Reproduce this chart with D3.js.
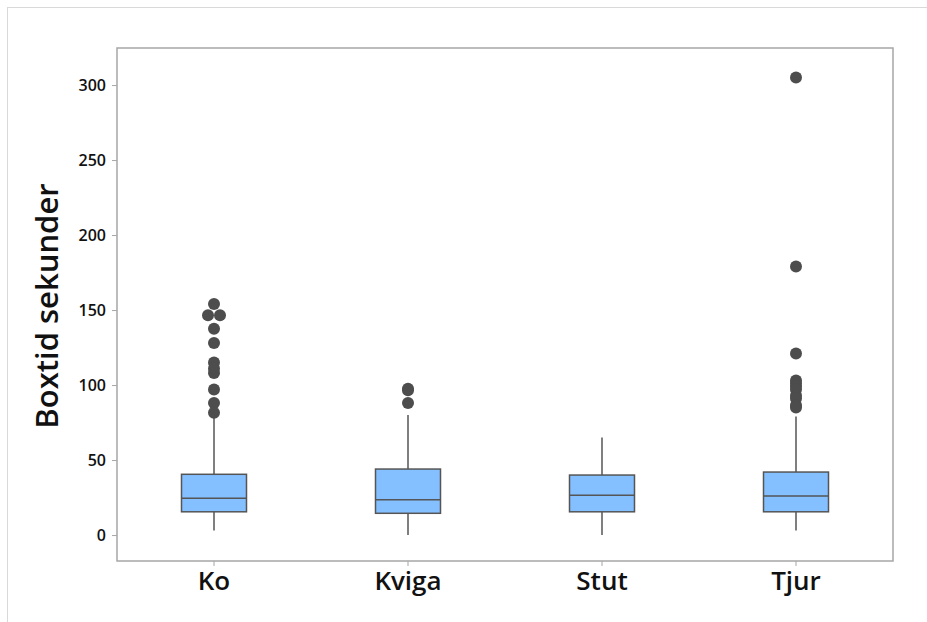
<!DOCTYPE html>
<html>
<head>
<meta charset="utf-8">
<script src="https://cdn.jsdelivr.net/npm/d3@7"></script>
<style>
  body { margin: 0; background: #fff; }
  text { font-family: "Open Sans", "Noto Sans", sans-serif; }
</style>
</head>
<body>
<script>
//Width and height
var w = 927;
var h = 622;

//Data
var categories = ["Ko", "Kviga", "Stut", "Tjur"];
var q1 =      [15.5, 14.5, 15.5, 15.5];
var medians = [24.5, 23.5, 26.5, 26];
var q3 =      [40.5, 44, 40, 42];
var whiskerLow =  [3, 0, 0, 3];
var whiskerHigh = [78, 80, 65, 79];
var outliers = [
    [154, 146.5, 146.5, 137.5, 128, 115, 111, 108, 97, 88, 81.5],
    [97.5, 96.5, 88],
    [],
    [305, 179, 121, 103, 101, 99, 97, 93, 91, 86.5, 85]
];
var yTicks = [0, 50, 100, 150, 200, 250, 300];

//Plot frame
var frame = {left: 117, top: 48, right: 893, bottom: 561};

var svg = d3.select("body")
            .append("svg")
            .attr("width", w)
            .attr("height", h);

//Outer light border
svg.append("rect")
   .attr("x", 7.5).attr("y", 7.5)
   .attr("width", w).attr("height", h)
   .attr("fill", "none")
   .attr("stroke", "#d9d9d9");

//Scales
var x = d3.scaleBand()
          .domain(categories)
          .range([frame.left, frame.right]);

var y = d3.scaleLinear()
          .domain([-17.3, 324.7])
          .range([frame.bottom, frame.top]);

var boxW = 65;

//Frame
svg.append("rect")
   .attr("x", frame.left).attr("y", frame.top)
   .attr("width", frame.right - frame.left)
   .attr("height", frame.bottom - frame.top)
   .attr("fill", "none")
   .attr("stroke", "#a6a6a6")
   .attr("stroke-width", 1.5);

//Y axis
var yAxis = svg.append("g")
   .attr("transform", "translate(" + frame.left + ",0)")
   .call(d3.axisLeft(y).tickValues(yTicks).tickSize(5).tickPadding(6));
yAxis.select(".domain").remove();
yAxis.selectAll("line").attr("stroke", "#a6a6a6");
yAxis.selectAll("text")
     .attr("font-size", 16)
     .attr("font-weight", 600)
     .attr("fill", "#111");

//X axis
var xAxis = svg.append("g")
   .attr("transform", "translate(0," + frame.bottom + ")")
   .call(d3.axisBottom(x).tickSize(5).tickPadding(6));
xAxis.select(".domain").remove();
xAxis.selectAll("line").attr("stroke", "#a6a6a6");
xAxis.selectAll("text")
     .attr("font-size", 26)
     .attr("font-weight", 600)
     .attr("fill", "#111");

//Y title
svg.append("text")
   .attr("transform", "translate(58,306) rotate(-90)")
   .attr("text-anchor", "middle")
   .attr("font-size", 31)
   .attr("font-weight", 600)
   .attr("fill", "#111")
   .text("Boxtid sekunder");

//Boxes
categories.forEach(function(c, i) {
    var cx = x(c) + x.bandwidth() / 2;
    var g = svg.append("g");

    //Whiskers
    g.append("line")
     .attr("x1", cx).attr("x2", cx)
     .attr("y1", y(q3[i])).attr("y2", y(whiskerHigh[i]))
     .attr("stroke", "#555").attr("stroke-width", 1.5);
    g.append("line")
     .attr("x1", cx).attr("x2", cx)
     .attr("y1", y(q1[i])).attr("y2", y(whiskerLow[i]))
     .attr("stroke", "#555").attr("stroke-width", 1.5);

    //Box
    g.append("rect")
     .attr("x", cx - boxW / 2)
     .attr("y", y(q3[i]))
     .attr("width", boxW)
     .attr("height", y(q1[i]) - y(q3[i]))
     .attr("fill", "#84bfff")
     .attr("stroke", "#555")
     .attr("stroke-width", 1.5);

    //Median
    g.append("line")
     .attr("x1", cx - boxW / 2).attr("x2", cx + boxW / 2)
     .attr("y1", y(medians[i])).attr("y2", y(medians[i]))
     .attr("stroke", "#555").attr("stroke-width", 1.5);

    //Outliers, repeated values are spread sideways
    var counts = {};
    outliers[i].forEach(function(v) { counts[v] = (counts[v] || 0) + 1; });
    var seen = {};
    outliers[i].forEach(function(v) {
        var n = counts[v];
        var k = seen[v] || 0;
        seen[v] = k + 1;
        var off = (k - (n - 1) / 2) * 12;
        g.append("circle")
         .attr("cx", cx + off)
         .attr("cy", y(v))
         .attr("r", 6)
         .attr("fill", "#4d4d4d");
    });
});
</script>
</body>
</html>
